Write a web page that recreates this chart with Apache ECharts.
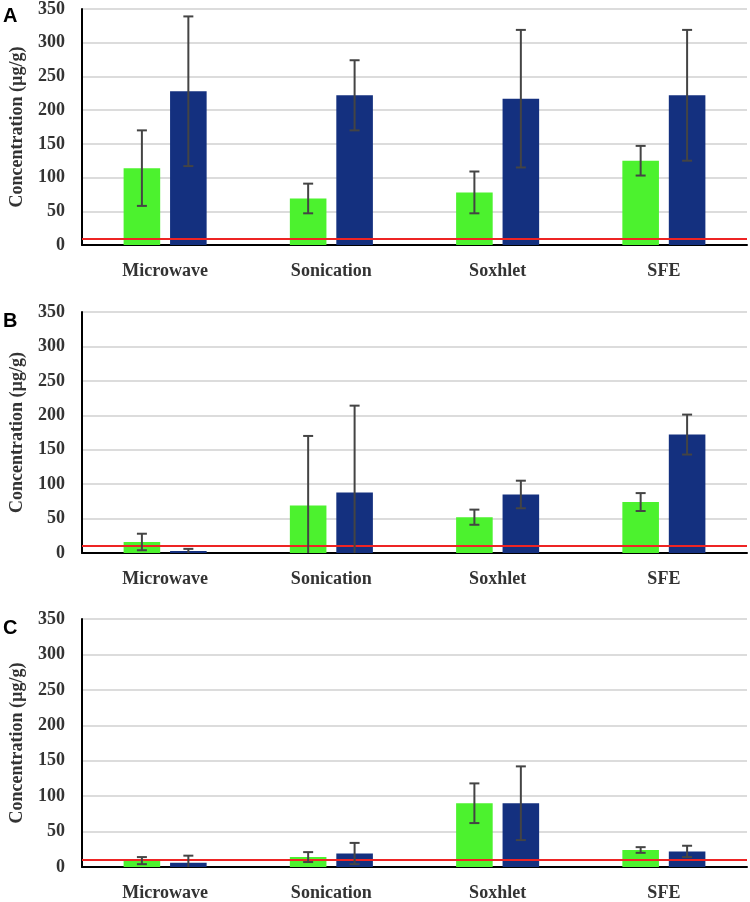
<!DOCTYPE html>
<html>
<head>
<meta charset="utf-8">
<script src="https://cdn.jsdelivr.net/npm/echarts@6/dist/echarts.min.js"></script>
<style>
  html, body { margin: 0; padding: 0; background: #fff; }
  #chart { width: 750px; height: 902px; }
</style>
</head>
<body>
<div id="chart"></div>
<script>
const categories = ['Microwave', 'Sonication', 'Soxhlet', 'SFE']
const yTicks = [0, 50, 100, 150, 200, 250, 300, 350]
const panelLabels = ['A', 'B', 'C']
const limitLine = 10

// panel A
const aGreen = [114, 69, 78, 125]
const aGreenErr = [56, 22, 31, 22]
const aBlue = [228, 222, 217, 222]
const aBlueErr = [111, 52, 102, 97]

// panel B
const bGreen = [16, 69, 52, 74]
const bGreenErr = [12, 101, 11, 13]
const bBlue = [3, 88, 85, 172]
const bBlueErr = [3, 126, 20, 29]

// panel C
const cGreen = [9, 14, 90, 24]
const cGreenErr = [5, 7, 28, 4]
const cBlue = [6, 19, 90, 22]
const cBlueErr = [10, 15, 52, 8]

const panels = [
  { green: aGreen, greenErr: aGreenErr, blue: aBlue, blueErr: aBlueErr },
  { green: bGreen, greenErr: bGreenErr, blue: bBlue, blueErr: bBlueErr },
  { green: cGreen, greenErr: cGreenErr, blue: cBlue, blueErr: cBlueErr },
]

const GREEN = '#4cf22e'
const BLUE = '#14307f'
const SERIF = '"Liberation Serif", "Times New Roman", serif'
const BAR_W = 0.22
const BAR_GAP = 0.27

const gridBoxes = [
  { top: 7, height: 238 },
  { top: 312, height: 241 },
  { top: 619, height: 251 },
]

function errorBars(means, errs, side) {
  return means.map((m, i) => [i, m, errs[i], side])
}

function renderErr(params, api) {
  const i = api.value(0)
  const m = api.value(1)
  const e = api.value(2)
  const side = api.value(3)
  const band = api.size([1, 0])[0]
  const off = side * band * (BAR_W / 2 + BAR_W * BAR_GAP / 2)
  const hi = api.coord([i, m + e])
  const lo = api.coord([i, Math.max(0, m - e)])
  const x = hi[0] + off
  const cap = 5
  const style = { stroke: '#444', lineWidth: 2 }
  const kids = [
    { type: 'line', shape: { x1: x, y1: hi[1], x2: x, y2: lo[1] }, style },
    { type: 'line', shape: { x1: x - cap, y1: hi[1], x2: x + cap, y2: hi[1] }, style },
  ]
  if (m - e > 0) {
    kids.push({ type: 'line', shape: { x1: x - cap, y1: lo[1], x2: x + cap, y2: lo[1] }, style })
  }
  return { type: 'group', children: kids }
}

const grid = []
const xAxis = []
const yAxis = []
const series = []
const graphic = []

panels.forEach((p, k) => {
  grid.push({ left: 79, width: 668, top: gridBoxes[k].top, height: gridBoxes[k].height })
  xAxis.push({
    type: 'category',
    gridIndex: k,
    data: categories,
    axisLine: { lineStyle: { color: '#000', width: 2 } },
    axisTick: { show: false },
    axisLabel: { color: '#333', fontFamily: SERIF, fontWeight: 'bold', fontSize: 18, margin: 17 },
  })
  yAxis.push({
    type: 'value',
    gridIndex: k,
    min: yTicks[0],
    max: yTicks[yTicks.length - 1],
    interval: yTicks[1] - yTicks[0],
    name: 'Concentration (µg/g)',
    nameLocation: 'middle',
    nameRotate: 90,
    nameGap: 56,
    nameTextStyle: { color: '#333', fontFamily: SERIF, fontWeight: 'bold', fontSize: 18 },
    axisLine: { show: true, lineStyle: { color: '#000', width: 2 } },
    axisTick: { show: false },
    axisLabel: { color: '#333', fontFamily: SERIF, fontWeight: 'bold', fontSize: 18, margin: 17 },
    splitLine: { lineStyle: { color: '#dcdcdc', width: 2 } },
  })
  series.push({
    type: 'bar',
    xAxisIndex: k,
    yAxisIndex: k,
    data: p.green,
    barWidth: BAR_W * 100 + '%',
    barGap: BAR_GAP * 100 + '%',
    itemStyle: { color: GREEN },
  })
  series.push({
    type: 'bar',
    xAxisIndex: k,
    yAxisIndex: k,
    data: p.blue,
    barWidth: BAR_W * 100 + '%',
    barGap: BAR_GAP * 100 + '%',
    itemStyle: { color: BLUE },
    markLine: {
      silent: true,
      symbol: 'none',
      label: { show: false },
      lineStyle: { color: '#ee2424', width: 2, type: 'solid' },
      data: [{ yAxis: limitLine }],
    },
  })
  series.push({
    type: 'custom',
    xAxisIndex: k,
    yAxisIndex: k,
    renderItem: renderErr,
    data: errorBars(p.green, p.greenErr, -1).concat(errorBars(p.blue, p.blueErr, 1)),
    z: 5,
  })
  graphic.push({
    type: 'text',
    left: 3,
    top: gridBoxes[k].top - 1,
    style: { text: panelLabels[k], font: 'bold 20px "Liberation Sans", Arial, sans-serif', fill: '#000' },
  })
})

const chart = echarts.init(document.getElementById('chart'))
chart.setOption({
  animation: false,
  grid,
  xAxis,
  yAxis,
  series,
  graphic,
})
</script>
</body>
</html>
